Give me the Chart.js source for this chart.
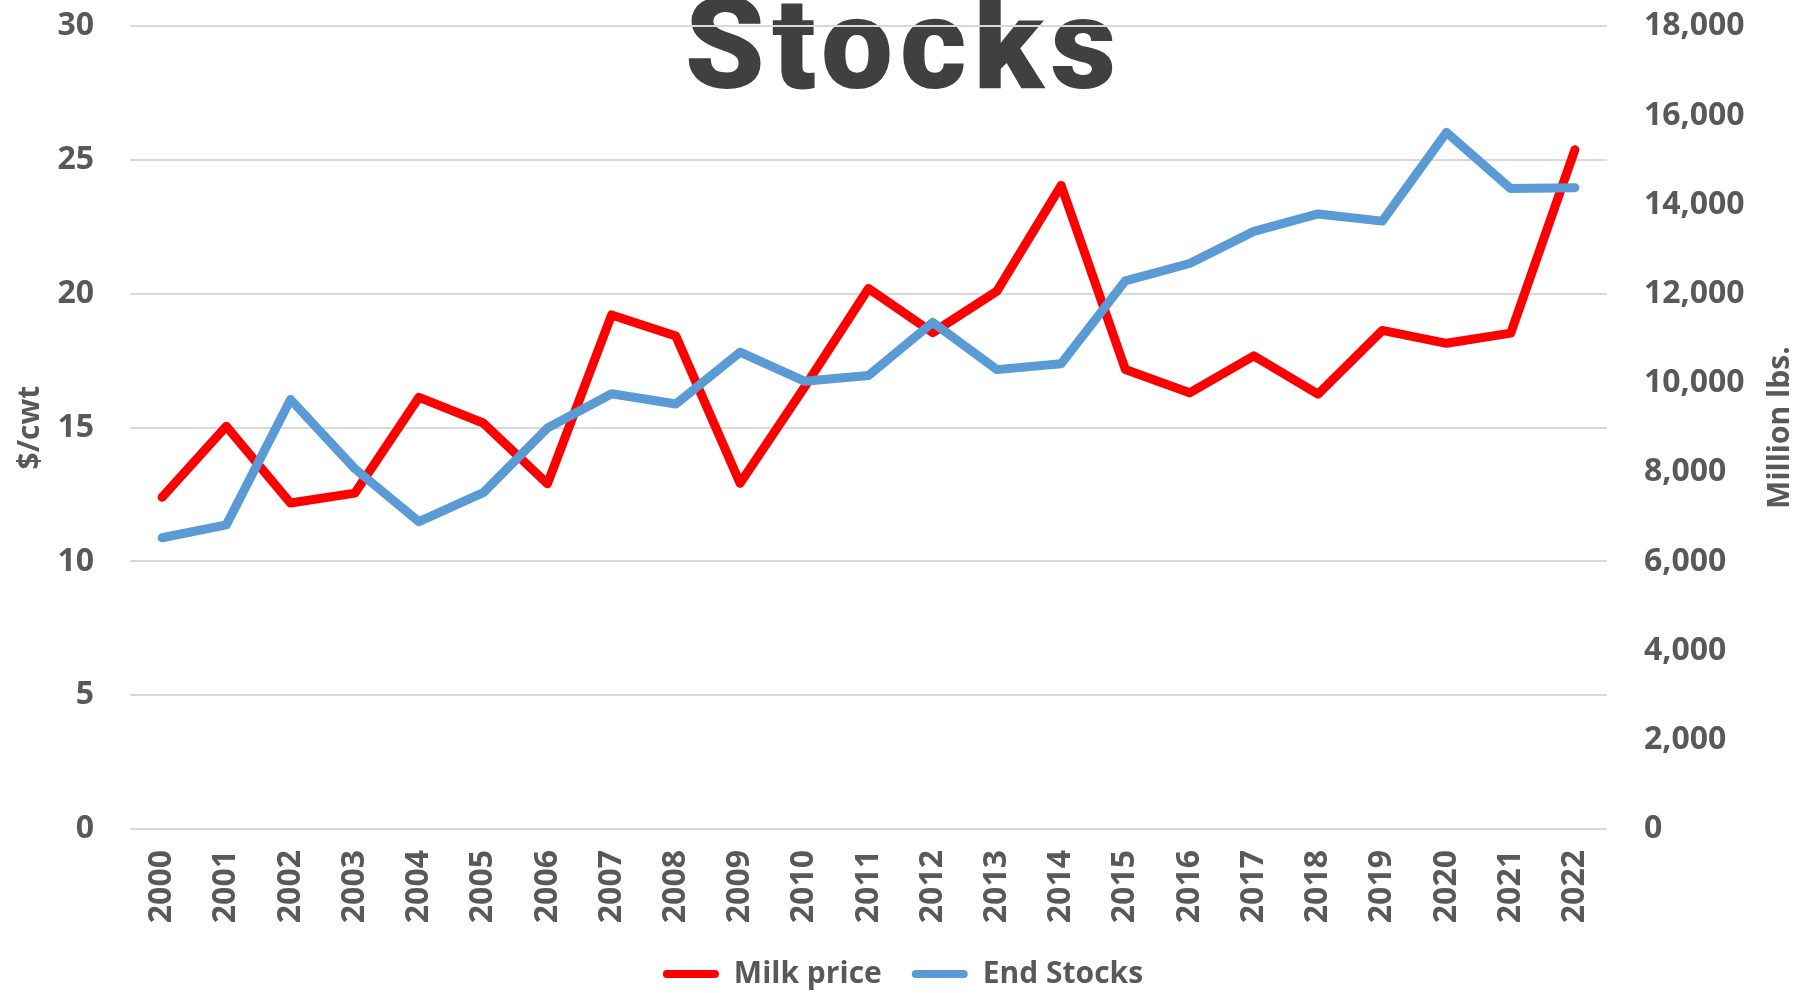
<!DOCTYPE html>
<html>
<head>
<meta charset="utf-8">
<script src="https://cdn.jsdelivr.net/npm/chart.js@4.4.1/dist/chart.umd.min.js"></script>
<style>
  html, body { margin: 0; padding: 0; background: #ffffff; }
  #wrap { position: relative; width: 1806px; height: 993px; overflow: hidden; }
  /* the canvas is 30px taller than the page and pulled up, so the plot starts near the top edge */
  #inner { position: relative; width: 1806px; height: 1023px; margin-top: -30px; }
</style>
</head>
<body>
<div id="wrap"><div id="inner"><canvas id="chart"></canvas></div></div>
<script>
// Milk price vs end stocks, 2000-2022
const years = ['2000', '2001', '2002', '2003', '2004', '2005', '2006', '2007', '2008', '2009', '2010', '2011',
               '2012', '2013', '2014', '2015', '2016', '2017', '2018', '2019', '2020', '2021', '2022'];

// $/cwt (left axis)
const milkPrice = [12.40, 15.05, 12.18, 12.55, 16.13, 15.17, 12.90, 19.21, 18.42, 12.92, 16.50, 20.20,
                   18.55, 20.10, 24.05, 17.17, 16.30, 17.68, 16.25, 18.63, 18.15, 18.53, 25.38];

// Million lbs. (right axis)
const endStocks = [6530, 6820, 9630, 8080, 6890, 7540, 8990, 9760, 9530, 10690, 10040, 10170,
                   11360, 10300, 10430, 12290, 12680, 13400, 13790, 13630, 15620, 14360, 14380];

const TEXT = '#595959';
const SHIFT = 30;
const tickFont = { family: "'Open Sans', 'DejaVu Sans', sans-serif", size: 32, weight: '700' };
const titleFont = { family: "'Open Sans', 'DejaVu Sans', sans-serif", size: 30, weight: '700' };

// big "Stocks" heading, drawn under the grid so the top gridline crosses it
const headingPlugin = {
    id: 'heading',
    beforeDraw(chart) {
        const ctx = chart.ctx;
        ctx.save();
        ctx.fillStyle = '#404040';
        ctx.font = "900 128px Roboto, 'Open Sans', sans-serif";
        ctx.letterSpacing = '7px';
        ctx.textAlign = 'center';
        ctx.textBaseline = 'alphabetic';
        ctx.fillText('Stocks', 904, 88 + SHIFT);
        ctx.restore();
    }
};

// right axis title reads bottom-to-top like the left one
const rightTitlePlugin = {
    id: 'rightTitle',
    afterDraw(chart) {
        const ctx = chart.ctx;
        const area = chart.chartArea;
        ctx.save();
        ctx.translate(1780, (area.top + area.bottom) / 2);
        ctx.rotate(-Math.PI / 2);
        ctx.fillStyle = TEXT;
        ctx.font = "700 30px 'Open Sans', 'DejaVu Sans', sans-serif";
        ctx.textAlign = 'center';
        ctx.textBaseline = 'middle';
        ctx.fillText('Million lbs.', 0, 0);
        ctx.restore();
    }
};

const ctx = document.getElementById('chart').getContext('2d');
new Chart(ctx, {
    type: 'line',
    data: {
        labels: years,
        datasets: [
            {
                label: 'Milk price',
                data: milkPrice,
                yAxisID: 'y',
                borderColor: '#ff0000',
                backgroundColor: '#ff0000',
                borderWidth: 9,
                borderCapStyle: 'round',
                borderJoinStyle: 'round',
                pointRadius: 0,
                tension: 0,
                order: 1
            },
            {
                label: 'End Stocks',
                data: endStocks,
                yAxisID: 'y2',
                borderColor: '#5b9bd5',
                backgroundColor: '#5b9bd5',
                borderWidth: 9,
                borderCapStyle: 'round',
                borderJoinStyle: 'round',
                pointRadius: 0,
                tension: 0,
                order: 0
            }
        ]
    },
    plugins: [headingPlugin, rightTitlePlugin],
    options: {
        responsive: true,
        maintainAspectRatio: false,
        animation: false,
        layout: { padding: { top: 0, left: 0, right: 0, bottom: -6 } },
        plugins: {
            tooltip: { enabled: false },
            legend: {
                position: 'bottom',
                labels: {
                    font: titleFont,
                    color: TEXT,
                    boxWidth: 56,
                    boxHeight: 8,
                    padding: 30,
                    generateLabels: (chart) => chart.data.datasets.map((ds, i) => ({
                        text: ds.label,
                        fillStyle: ds.borderColor,
                        strokeStyle: ds.borderColor,
                        lineWidth: 0,
                        fontColor: TEXT,
                        borderRadius: 4,
                        hidden: false,
                        datasetIndex: i
                    })),
                    useBorderRadius: true,
                    borderRadius: 4
                }
            }
        },
        scales: {
            x: {
                offset: true,
                grid: { display: false },
                border: { display: false },
                ticks: {
                    font: tickFont, color: TEXT,
                    maxRotation: 90, minRotation: 90,
                    padding: 13,
                    autoSkip: false
                },
                afterFit: (scale) => { scale.height = 100; }
            },
            y: {
                position: 'left',
                min: 0, max: 30,
                grid: { color: '#d9d9d9', lineWidth: 2, drawTicks: false },
                border: { display: false },
                ticks: { stepSize: 5, font: tickFont, color: TEXT, padding: 36 },
                title: { display: true, text: '$/cwt', font: titleFont, color: TEXT, padding: { top: 12 } },
                afterFit: (scale) => { scale.width = 130; }
            },
            y2: {
                position: 'right',
                min: 0, max: 18000,
                grid: { display: false, drawTicks: false },
                border: { display: false },
                ticks: {
                    stepSize: 2000, font: tickFont, color: TEXT, padding: 37,
                    callback: (v) => v.toLocaleString('en-US')
                },
                afterFit: (scale) => { scale.width = 199; }
            }
        }
    }
});
</script>
</body>
</html>
